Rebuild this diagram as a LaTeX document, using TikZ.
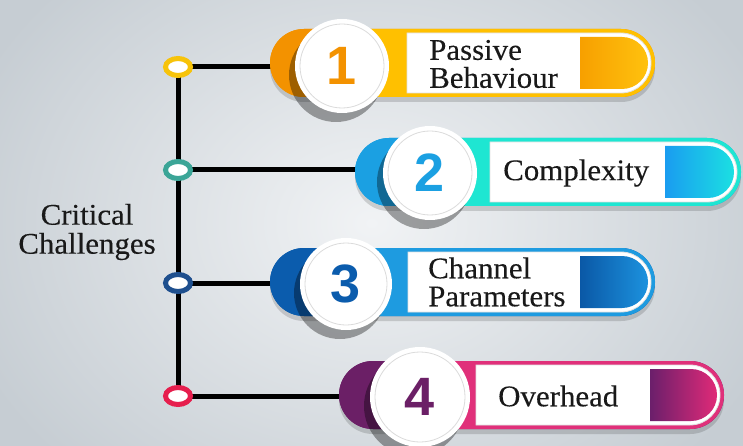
\documentclass[tikz,border=0pt]{standalone}
\usepackage{fontspec}
\setmainfont{Liberation Serif}[FakeStretch=1.03, FakeBold=0.25]
\newfontfamily\numfont{Liberation Sans}
\usetikzlibrary{shadows,shapes.geometric}
\definecolor{bgin}{HTML}{F1F3F5}
\definecolor{bgout}{HTML}{C6CDD3}
\definecolor{dkA}{HTML}{F39200}\definecolor{brA}{HTML}{FFC000}
\definecolor{ilA}{HTML}{F7A000}\definecolor{irA}{HTML}{FFC20E}\definecolor{mkA}{HTML}{F7C30A}
\definecolor{dkB}{HTML}{1BA0E2}\definecolor{brB}{HTML}{1EE6D2}
\definecolor{ilB}{HTML}{1A9CF0}\definecolor{irB}{HTML}{1BE0E2}\definecolor{mkB}{HTML}{3BA597}
\definecolor{dkC}{HTML}{0B5CAD}\definecolor{brC}{HTML}{1E9BE0}
\definecolor{ilC}{HTML}{0A58A6}\definecolor{irC}{HTML}{1C92DE}\definecolor{mkC}{HTML}{1E4F8E}
\definecolor{dkD}{HTML}{6B1F66}\definecolor{brD}{HTML}{E0307A}
\definecolor{ilD}{HTML}{6B1F6B}\definecolor{irD}{HTML}{E02A78}\definecolor{mkD}{HTML}{E61E4D}
\begin{document}
\begin{tikzpicture}[x=1pt,y=-1pt,
  conn/.style={line width=5pt, black},
  ringmark/.style={ellipse, draw=#1, line width=5pt, fill=white, minimum width=25pt, minimum height=17pt, inner sep=0pt},
  disc/.style={circle, fill=white, inner sep=0pt, minimum size=#1,
    drop shadow={shadow xshift=-6pt, shadow yshift=-9pt, opacity=0.35, fill=black}},
  pillshadow/.style={drop shadow={shadow xshift=0pt, shadow yshift=-5pt, opacity=0.15, fill=black}},
  label/.style={anchor=west, align=left, font=\fontsize{30}{28}\selectfont, text=black!90, inner sep=0pt},
  numlabel/.style={font=\numfont\bfseries\fontsize{54}{54}\selectfont}
]
\useasboundingbox (0,0) rectangle (743,446);
\shade[inner color=bgin, outer color=bgout] (-60,-120) rectangle (803,566);
% connector anchor points
\foreach \n/\xa/\ly in {1/270/67, 2/355/170, 3/270/283, 4/339/396}{
  \coordinate (mk\n) at (178,\ly);
  \coordinate (p\n) at (\xa+12,\ly);
}
\draw[conn] (mk1) -- (mk4);
\foreach \n in {1,2,3,4}{ \draw[conn] (mk\n) -- (p\n); }
\node[ringmark=mkA] (m1) at (mk1) {};
\node[ringmark=mkB] (m2) at (mk2) {};
\node[ringmark=mkC] (m3) at (mk3) {};
\node[ringmark=mkD] (m4) at (mk4) {};
% title
\node[align=center, font=\fontsize{30}{29}\selectfont, text=black!90, inner sep=0pt] (title) at (87,232) {Critical\\Challenges};
% pills
\foreach \n/\xa/\xb/\cy/\cx/\ccy/\r/\xw/\xi/\L in {
  1/270/655/63/342/66/94/407/580/A,
  2/355/741/172/430/173/94/490/665/B,
  3/270/655/282/346/284/92/408/580/C,
  4/339/724/395/420/397/100/476/650/D}{
  \fill[dk\L, rounded corners=33.9, pillshadow] (\xa,\cy-34) rectangle (\xb,\cy+34);
  \fill[br\L] (\cx,\cy-34) -- (\xb-34,\cy-34) arc(-90:90:34) -- (\cx,\cy+34) -- cycle;
  \fill[dk\L] (\xa+34,\cy-34) -- (\cx,\cy-34) -- (\cx,\cy+34) -- (\xa+34,\cy+34) arc(90:270:34) -- cycle;
  \filldraw[fill=white, draw=black!12, line width=0.8pt] (\xw,\cy-30) -- (\xb-34,\cy-30) arc(-90:90:30) -- (\xw,\cy+30) -- cycle;
  \shade[left color=il\L, right color=ir\L] (\xi,\cy-26) -- (\xb-33,\cy-26) arc(-90:90:26) -- (\xi,\cy+26) -- cycle;
  \node[disc=\r pt, text=dk\L, numlabel] (c\n) at (\cx,\ccy) {\n};
  \draw[black!14, line width=0.8pt] (c\n.center) circle[radius=\r/2-5];
}
\node[label] (t1) at (429,64) {Passive\\Behaviour};
\node[label] (t2) at (503,173) {Complexity};
\node[label] (t3) at (428,282) {Channel\\Parameters};
\node[label] (t4) at (498,396) {Overhead};
\end{tikzpicture}
\end{document}
